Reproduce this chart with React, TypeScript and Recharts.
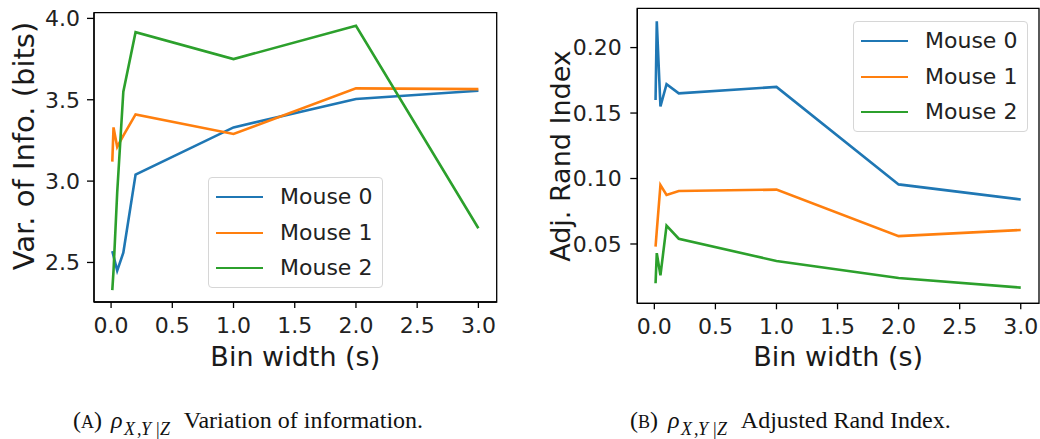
import React from 'react';
import { LineChart, Line, XAxis, YAxis, Legend, ReferenceArea } from 'recharts';

const binWidths = [0.01, 0.02, 0.05, 0.1, 0.2, 1.0, 2.0, 3.0];
const seriesNames = ['Mouse 0', 'Mouse 1', 'Mouse 2'];
const seriesColors = ['#1f77b4', '#ff7f0e', '#2ca02c'];

// variation of information (bits)
const viMouse0 = [2.57, 2.54, 2.45, 2.56, 3.04, 3.33, 3.505, 3.555];
const viMouse1 = [3.12, 3.33, 3.21, 3.28, 3.41, 3.29, 3.57, 3.565];
const viMouse2 = [2.33, 2.45, 2.93, 3.55, 3.915, 3.75, 3.955, 2.71];

// adjusted rand index
const ariMouse0 = [0.16, 0.22, 0.155, 0.172, 0.165, 0.17, 0.0955, 0.084];
const ariMouse1 = [0.048, 0.06, 0.095, 0.0875, 0.0905, 0.0915, 0.056, 0.0607];
const ariMouse2 = [0.02, 0.043, 0.026, 0.064, 0.054, 0.037, 0.024, 0.0167];

const xTicks = [0, 0.5, 1.0, 1.5, 2.0, 2.5, 3.0];
const viTicks = [2.5, 3.0, 3.5, 4.0];
const ariTicks = [0.05, 0.1, 0.15, 0.2];

const X_DOMAIN: [number, number] = [-0.1395, 3.1495];
const AXIS = { stroke: '#000', strokeWidth: 1.3 };
const TICK = { fill: '#222', fontSize: 22 };

const buildRows = (s0: number[], s1: number[], s2: number[]) =>
  binWidths.map((x, i) => ({ x, m0: s0[i], m1: s1[i], m2: s2[i] }));

const LegendBox = (props: any) => {
  const payload = props.payload || [];
  return (
    <div
      style={{
        position: 'relative',
        width: 175,
        height: 111,
        boxSizing: 'border-box',
        border: '1px solid #d6d6d6',
        borderRadius: 4,
        background: 'rgba(255,255,255,0.8)',
      }}
    >
      {payload.map((p: any, i: number) => (
        <div key={p.value} style={{ position: 'absolute', left: 0, top: 19 + i * 35.5 - 11, height: 22, width: '100%' }}>
          <div style={{ position: 'absolute', left: 7, top: 10, width: 47, height: 2.4, background: p.color }} />
          <span style={{ position: 'absolute', left: 71, top: 0, fontSize: 22, lineHeight: '22px', color: '#222', whiteSpace: 'nowrap' }}>
            {p.value}
          </span>
        </div>
      ))}
    </div>
  );
};

interface PanelProps {
  rows: { x: number; m0: number; m1: number; m2: number }[];
  yDomain: [number, number];
  yTicks: number[];
  yDigits: number;
  yAxisWidth: number;
  xAxisHeight: number;
  margin: { top: number; right: number; bottom: number; left: number };
  yTickMargin: number;
  legendPos: { left: number; top: number };
}

const Panel: React.FC<PanelProps> = ({ rows, yDomain, yTicks, yDigits, yAxisWidth, xAxisHeight, margin, yTickMargin, legendPos }) => (
  <LineChart width={520} height={340} data={rows} margin={margin}>
    <XAxis
      dataKey="x"
      type="number"
      domain={X_DOMAIN}
      ticks={xTicks}
      interval={0}
      allowDataOverflow
      tickFormatter={(v: number) => v.toFixed(1)}
      height={xAxisHeight}
      axisLine={AXIS}
      tickLine={AXIS}
      tickSize={6}
      tickMargin={9}
      tick={TICK}
    />
    <YAxis
      type="number"
      domain={yDomain}
      ticks={yTicks}
      interval={0}
      allowDataOverflow
      tickFormatter={(v: number) => v.toFixed(yDigits)}
      width={yAxisWidth}
      axisLine={AXIS}
      tickLine={AXIS}
      tickSize={7}
      tickMargin={yTickMargin}
      tick={TICK}
    />
    <Legend
      layout="vertical"
      align="center"
      verticalAlign="middle"
      content={LegendBox}
      wrapperStyle={{ left: legendPos.left, top: legendPos.top, width: 175, height: 111 }}
    />
    {['m0', 'm1', 'm2'].map((key, i) => (
      <Line
        key={key}
        type="linear"
        dataKey={key}
        name={seriesNames[i]}
        stroke={seriesColors[i]}
        strokeWidth={2.6}
        dot={false}
        activeDot={false}
        isAnimationActive={false}
      />
    ))}
    {/* axes frame, matplotlib style */}
    <ReferenceArea
      x1={X_DOMAIN[0]}
      x2={X_DOMAIN[1]}
      y1={yDomain[0]}
      y2={yDomain[1]}
      fill="none"
      fillOpacity={0}
      stroke="#000"
      strokeWidth={1.3}
      ifOverflow="visible"
    />
  </LineChart>
);

const Caption: React.FC<{ start: number; letter: string; text: string }> = ({ start, letter, text }) => {
  const rho = start + 38;
  const sub = rho + 13;
  return (
    <g fontFamily="'Liberation Serif', serif" fill="#111">
      <text y={428.3} fontSize={24}>
        <tspan x={start}>(</tspan>
        <tspan fontSize={18}>{letter}</tspan>
        <tspan>)</tspan>
      </text>
      <text x={rho} y={428.3} fontSize={24} fontStyle="italic">ρ</text>
      <text y={435} fontSize={18}>
        <tspan x={sub} fontStyle="italic">X</tspan>
        <tspan x={sub + 13}>,</tspan>
        <tspan x={sub + 17} fontStyle="italic">Y</tspan>
        <tspan x={sub + 32}>|</tspan>
        <tspan x={sub + 36} fontStyle="italic">Z</tspan>
      </text>
      <text x={rho + 72.8} y={428.3} fontSize={24}>{text}</text>
    </g>
  );
};

export default function App() {
  const viRows = buildRows(viMouse0, viMouse1, viMouse2);
  const ariRows = buildRows(ariMouse0, ariMouse1, ariMouse2);

  return (
    <div
      style={{
        position: 'absolute',
        left: 0,
        top: 0,
        width: 1040,
        height: 439,
        background: '#fff',
        fontFamily: "'DejaVu Sans', sans-serif",
        overflow: 'hidden',
      }}
    >
      <div style={{ position: 'absolute', left: 0, top: 0 }}>
        <Panel
          rows={viRows}
          yDomain={[2.257, 4.035]}
          yTicks={viTicks}
          yDigits={1}
          yAxisWidth={94}
          xAxisHeight={38}
          margin={{ top: 12.7, right: 23.3, bottom: 0, left: 0 }}
          yTickMargin={7}
          legendPos={{ left: 208, top: 177 }}
        />
      </div>
      <div style={{ position: 'absolute', left: 520, top: 0 }}>
        <Panel
          rows={ariRows}
          yDomain={[0.0047, 0.2300]}
          yTicks={ariTicks}
          yDigits={2}
          yAxisWidth={117.3}
          xAxisHeight={36.7}
          margin={{ top: 8.3, right: 1, bottom: 0, left: 0 }}
          yTickMargin={8.5}
          legendPos={{ left: 333, top: 21 }}
        />
      </div>
      <svg width={1040} height={439} style={{ position: 'absolute', left: 0, top: 0, pointerEvents: 'none' }}>
        <g fontFamily="'DejaVu Sans', sans-serif" fill="#1a1a1a" textAnchor="middle">
          <text x={295.3} y={366} fontSize={27}>Bin width (s)</text>
          <text x={838.2} y={366} fontSize={27}>Bin width (s)</text>
          <text transform="translate(34,146) rotate(-90)" fontSize={29}>Var. of Info. (bits)</text>
          <text transform="translate(570,156) rotate(-90)" fontSize={27}>Adj. Rand Index</text>
        </g>
        <Caption start={73} letter="A" text="Variation of information." />
        <Caption start={630} letter="B" text="Adjusted Rand Index." />
      </svg>
    </div>
  );
}
